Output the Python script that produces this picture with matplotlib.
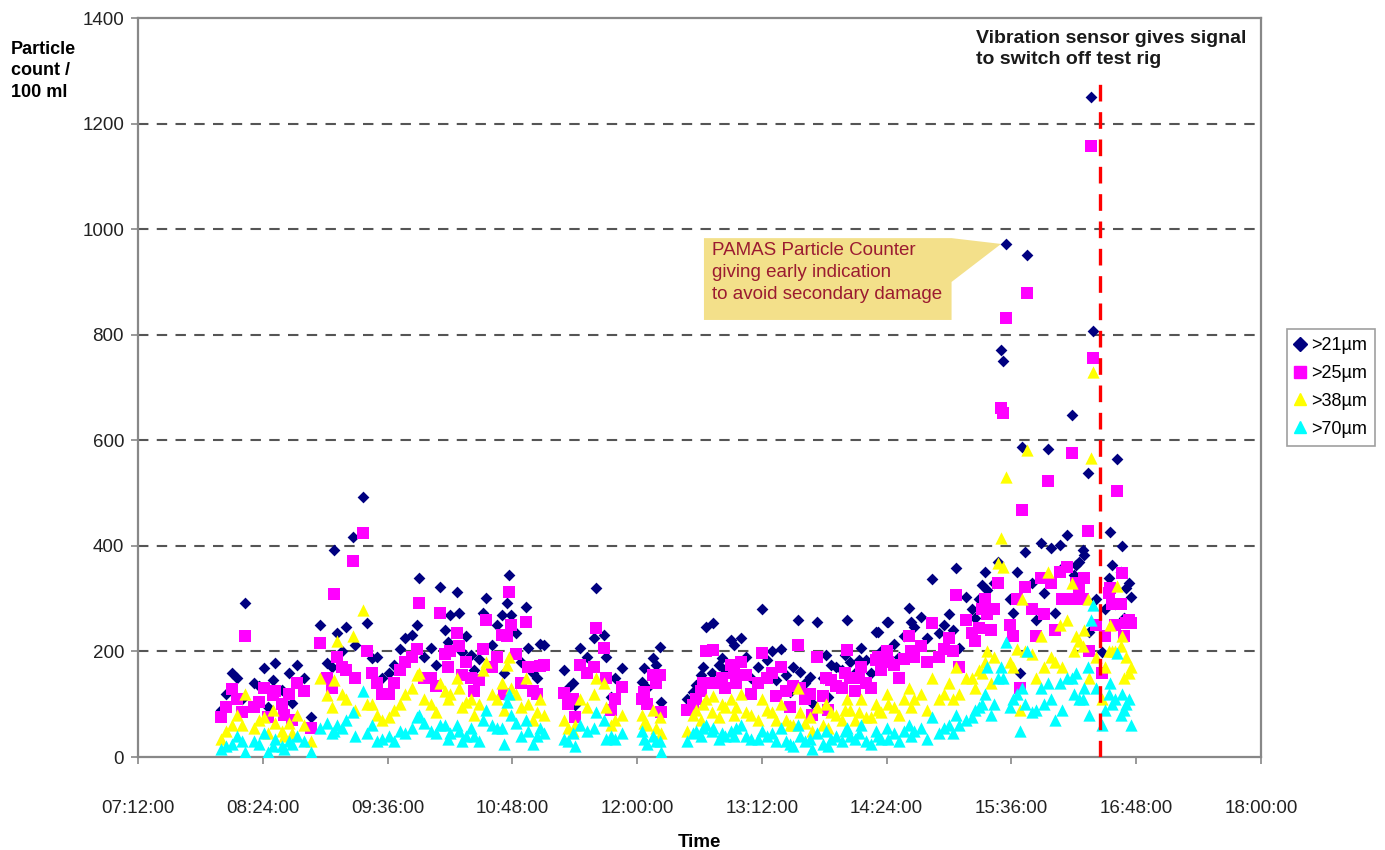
import matplotlib
matplotlib.use("Agg")
import matplotlib.pyplot as plt
from matplotlib.lines import Line2D
from matplotlib.patches import Polygon

plt.rcParams['font.family'] = ['Liberation Sans', 'DejaVu Sans']

# sample times (HH:MM) and particle counts per 100 ml for each size class
times = [
    "08:00", "08:06", "08:09", "08:14", "08:19", "08:25", "08:30", "08:31", "08:35", "08:36",
    "08:41", "08:44", "08:48", "08:52", "08:57", "09:01", "09:04", "09:05", "09:07", "09:12",
    "09:16", "09:17", "09:22", "09:24", "09:27", "09:30", "09:37", "09:46", "09:50", "09:53",
    "09:54", "10:01", "10:06", "10:11", "10:12", "10:16", "10:17", "10:19", "10:24", "10:26",
    "10:31", "10:33", "10:36", "10:42", "10:43", "10:45", "10:46", "10:47", "10:56", "10:57",
    "11:02", "11:04", "11:06", "11:18", "11:23", "11:24", "11:27", "11:31", "11:35", "11:36",
    "11:41", "11:42", "11:45", "11:51", "12:03", "12:04", "12:09", "12:13", "12:14", "12:32",
    "12:34", "12:37", "12:38", "12:40", "12:43", "12:44", "12:49", "12:54", "12:56", "12:57",
    "13:00", "13:10", "13:12", "13:15", "13:23", "13:26", "13:28", "13:33", "13:34", "13:40",
    "13:41", "13:44", "13:49", "13:50", "13:55", "14:00", "14:01", "14:06", "14:08", "14:09",
    "14:12", "14:18", "14:19", "14:24", "14:25", "14:37", "14:38", "14:40", "14:44", "14:50",
    "14:54", "15:04", "15:06", "15:10", "15:15", "15:19", "15:21", "15:22", "15:24", "15:28",
    "15:30", "15:31", "15:33", "15:37", "15:41", "15:42", "15:44", "15:45", "15:50", "15:53",
    "15:57", "15:59", "16:01", "16:04", "16:05", "16:11", "16:12", "16:13", "16:17", "16:18",
    "16:20", "16:21", "16:22", "16:23", "16:28", "16:32", "16:33", "16:34", "16:36", "16:37",
    "16:40", "16:41", "16:42", "16:45",
    # intermediate samples
    "08:03", "08:12", "08:22", "08:27", "08:39", "09:10", "09:33", "09:40", "09:43", "09:57",
    "10:04", "10:09", "10:21", "10:29", "10:39", "10:50", "10:53", "11:00", "11:20", "11:47",
    "12:06", "12:11", "12:29", "12:47", "12:51", "13:03", "13:06", "13:18", "13:20", "13:30",
    "13:37", "13:47", "13:52", "13:58", "14:03", "14:15", "14:21", "14:28", "14:31", "14:34",
    "14:47", "14:57", "15:00", "15:02", "15:13", "15:17", "15:26", "15:35", "15:39", "15:48",
    "15:55", "16:08", "16:15", "16:25", "16:30", "16:39", "16:44",
]

count_21 = [
    89, 159, 150, 292, 140, 169, 146, 178, 127, 104,
    102, 174, 150, 76, 250, 178, 170, 392, 235, 246,
    417, 212, 492, 254, 187, 189, 159, 225, 231, 250,
    339, 206, 322, 218, 269, 313, 273, 199, 193, 165,
    273, 301, 212, 269, 159, 292, 345, 269, 284, 206,
    150, 214, 212, 165, 140, 98, 206, 189, 225, 320,
    231, 189, 114, 169, 142, 169, 187, 208, 104, 123,
    136, 155, 170, 246, 159, 254, 187, 222, 212, 178,
    225, 170, 280, 184, 204, 155, 123, 260, 161, 152,
    103, 256, 193, 114, 170, 193, 260, 159, 184, 206,
    184, 237, 237, 256, 256, 282, 256, 246, 265, 337,
    235, 358, 206, 303, 263, 326, 350, 316, 278, 369,
    771, 750, 972, 273, 159, 587, 388, 951, 260, 405,
    584, 396, 273, 401, 358, 648, 345, 364, 392, 383,
    538, 237, 1250, 807, 199, 339, 426, 364, 290, 565,
    400, 263, 320, 303,
    120, 110, 135, 95, 160, 200, 150, 175, 205, 190,
    175, 240, 230, 185, 250, 235, 180, 160, 130, 150,
    130, 175, 110, 175, 165, 190, 150, 200, 145, 170,
    140, 150, 175, 165, 180, 160, 200, 215, 190, 230,
    225, 250, 270, 240, 280, 300, 330, 300, 350, 330,
    310, 420, 370, 300, 280, 350, 330,
]

count_25 = [
    75, 128, 110, 229, 95, 130, 118, 125, 100, 80,
    70, 140, 126, 55, 216, 150, 130, 309, 190, 165,
    371, 150, 424, 200, 160, 140, 120, 180, 190, 205,
    292, 150, 273, 170, 200, 235, 210, 155, 150, 125,
    205, 260, 170, 231, 120, 230, 313, 250, 256, 170,
    120, 172, 175, 121, 110, 75, 174, 160, 170, 244,
    206, 150, 90, 133, 110, 123, 155, 155, 85, 98,
    110, 125, 140, 200, 140, 203, 150, 175, 159, 140,
    180, 140, 197, 150, 170, 125, 95, 212, 130, 120,
    80, 189, 150, 90, 135, 160, 203, 125, 150, 170,
    140, 184, 190, 200, 180, 230, 200, 190, 210, 254,
    190, 307, 170, 260, 220, 280, 300, 270, 240, 330,
    661, 652, 832, 230, 130, 468, 322, 879, 230, 340,
    523, 330, 240, 350, 300, 576, 300, 330, 300, 340,
    428, 200, 1158, 756, 160, 310, 320, 290, 250, 504,
    349, 230, 254, 254,
    95, 85, 105, 75, 120, 170, 120, 140, 165, 150,
    135, 195, 180, 145, 190, 195, 140, 125, 100, 110,
    100, 140, 90, 140, 130, 155, 120, 160, 115, 135,
    110, 115, 145, 130, 150, 130, 165, 175, 150, 185,
    180, 205, 225, 200, 235, 245, 280, 250, 300, 280,
    270, 360, 320, 250, 230, 290, 260,
]

count_38 = [
    35, 60, 80, 120, 55, 75, 90, 65, 50, 40,
    45, 80, 60, 30, 150, 118, 95, 145, 220, 110,
    230, 90, 278, 100, 100, 80, 75, 120, 130, 155,
    160, 100, 140, 110, 120, 150, 130, 95, 110, 80,
    165, 180, 120, 140, 90, 175, 190, 130, 150, 100,
    85, 110, 80, 70, 50, 60, 110, 95, 120, 150,
    140, 95, 60, 80, 80, 65, 90, 75, 45, 80,
    90, 70, 100, 110, 85, 115, 100, 110, 80, 95,
    120, 70, 110, 90, 100, 70, 60, 130, 85, 75,
    50, 95, 100, 55, 80, 90, 110, 70, 85, 110,
    75, 100, 90, 120, 100, 130, 95, 110, 120, 150,
    110, 170, 120, 150, 130, 160, 180, 200, 140, 367,
    415, 360, 530, 170, 90, 300, 200, 582, 150, 230,
    350, 190, 180, 250, 170, 330, 200, 230, 210, 240,
    300, 150, 566, 730, 110, 200, 250, 200, 200, 324,
    230, 150, 190, 170,
    50, 60, 70, 45, 65, 120, 70, 90, 100, 110,
    85, 125, 105, 100, 110, 120, 95, 70, 55, 70,
    60, 55, 50, 75, 95, 85, 80, 85, 70, 60,
    65, 60, 85, 70, 90, 75, 85, 95, 80, 110,
    90, 120, 140, 110, 150, 165, 190, 180, 205, 195,
    170, 260, 220, 190, 170, 210, 160,
]

count_70 = [
    15, 25, 40, 10, 30, 45, 20, 35, 20, 15,
    25, 40, 30, 10, 55, 65, 45, 50, 60, 70,
    85, 40, 125, 45, 60, 30, 40, 45, 55, 75,
    80, 50, 60, 35, 45, 60, 50, 30, 55, 40,
    70, 90, 60, 55, 25, 105, 120, 80, 70, 50,
    40, 55, 45, 35, 45, 20, 60, 50, 55, 85,
    70, 35, 40, 45, 50, 35, 40, 30, 10, 45,
    50, 40, 55, 60, 50, 55, 45, 50, 40, 55,
    60, 35, 50, 40, 55, 30, 25, 60, 40, 35,
    15, 45, 50, 20, 40, 50, 55, 35, 45, 60,
    30, 50, 40, 55, 35, 60, 40, 50, 55, 75,
    45, 80, 60, 70, 90, 100, 120, 170, 80, 150,
    170, 150, 218, 110, 50, 130, 100, 200, 90, 130,
    140, 110, 70, 140, 90, 150, 120, 160, 110, 130,
    170, 80, 260, 288, 60, 120, 140, 100, 110, 197,
    120, 90, 100, 60,
    20, 30, 25, 10, 30, 55, 35, 30, 50, 65,
    45, 60, 40, 30, 55, 65, 40, 25, 30, 35,
    25, 30, 30, 35, 40, 40, 35, 45, 30, 20,
    30, 25, 35, 30, 40, 25, 35, 45, 30, 50,
    35, 55, 60, 45, 75, 95, 100, 95, 120, 85,
    100, 150, 110, 130, 90, 80, 110,
]

series_labels = [">21µm", ">25µm", ">38µm", ">70µm"]
switch_off_time = "16:27"
tick_times = ["07:12", "08:24", "09:36", "10:48", "12:00", "13:12",
              "14:24", "15:36", "16:48", "18:00"]


def to_hours(t):
    h, m = t.split(":")
    return int(h) + int(m) / 60.0


x = [to_hours(t) for t in times]

fig = plt.figure(figsize=(13.85, 8.5), dpi=100)
ax = fig.add_axes([0.0996, 0.1094, 0.8109, 0.8694])

styles = [
    dict(marker="D", color="#000080", s=36),
    dict(marker="s", color="#FF00FF", s=64),
    dict(marker="^", color="#FFFF00", s=78),
    dict(marker="^", color="#00FFFF", s=78),
]
for vals, st, lab in zip([count_21, count_25, count_38, count_70], styles, series_labels):
    ax.scatter(x, vals, marker=st["marker"], c=st["color"], s=st["s"],
               linewidths=0, label=lab, zorder=3)

ax.set_xlim(7.2, 18.0)
ax.set_ylim(0, 1400)
xt = [to_hours(t) for t in tick_times]
ax.set_xticks(xt)
ax.set_xticklabels([t + ":00" for t in tick_times])
ax.set_yticks(range(0, 1401, 200))

for v in range(200, 1400, 200):
    ax.axhline(v, color="#555555", lw=1.5, dashes=(5, 4), zorder=1)

for sp in ax.spines.values():
    sp.set_color("#888888")
    sp.set_linewidth(1.6)

ax.tick_params(axis="both", colors="#888888", width=1.2, length=5,
               labelcolor="#222222", labelsize=13.5)
ax.tick_params(axis="x", pad=26)
ax.tick_params(axis="y", pad=5)

ax.set_xlabel("Time", fontsize=13.5, fontweight="bold", labelpad=12)
fig.text(0.008, 0.952, "Particle\ncount /\n100 ml", fontsize=13,
         fontweight="bold", va="top", ha="left", linespacing=1.35)

# switch-off signal
xs = to_hours(switch_off_time)
ax.plot([xs, xs], [0, 1280], color="#FF0000", lw=2.4, dashes=(5, 3.2), zorder=4)
ax.text(15.26, 1377, "Vibration sensor gives signal\nto switch off test rig",
        fontsize=14, fontweight="bold", va="top", ha="left", color="#1a1a1a",
        linespacing=1.3)

# callout box pointing at the early peak
early = [i for i in range(len(x)) if x[i] < to_hours("15:40")]
peak = max(early, key=lambda i: count_21[i])
tip = (x[peak] - 0.05, count_21[peak])
callout = Polygon([(12.643, 983), (15.024, 983), tip, (15.024, 900),
                   (15.024, 828), (12.643, 828)],
                  closed=True, facecolor="#F3E08A", edgecolor="none", zorder=2)
ax.add_patch(callout)
ax.text(12.72, 975, "PAMAS Particle Counter\ngiving early indication\nto avoid secondary damage",
        fontsize=13.5, color="#9B1B30", va="top", ha="left", linespacing=1.38,
        zorder=3)

handles = [Line2D([], [], linestyle="none", marker=st["marker"], color=st["color"],
                  markersize=9) for st in styles]
handles[0].set_markersize(7)
leg = fig.legend(handles, series_labels, loc="upper left",
                 bbox_to_anchor=(0.929, 0.613), fontsize=13, frameon=True,
                 fancybox=False, handlelength=0.6, handletextpad=0.3,
                 borderpad=0.45, labelspacing=0.6, borderaxespad=0)
leg.get_frame().set_edgecolor("#888888")
leg.get_frame().set_linewidth(1.2)

fig.savefig("out.png", dpi=100)
